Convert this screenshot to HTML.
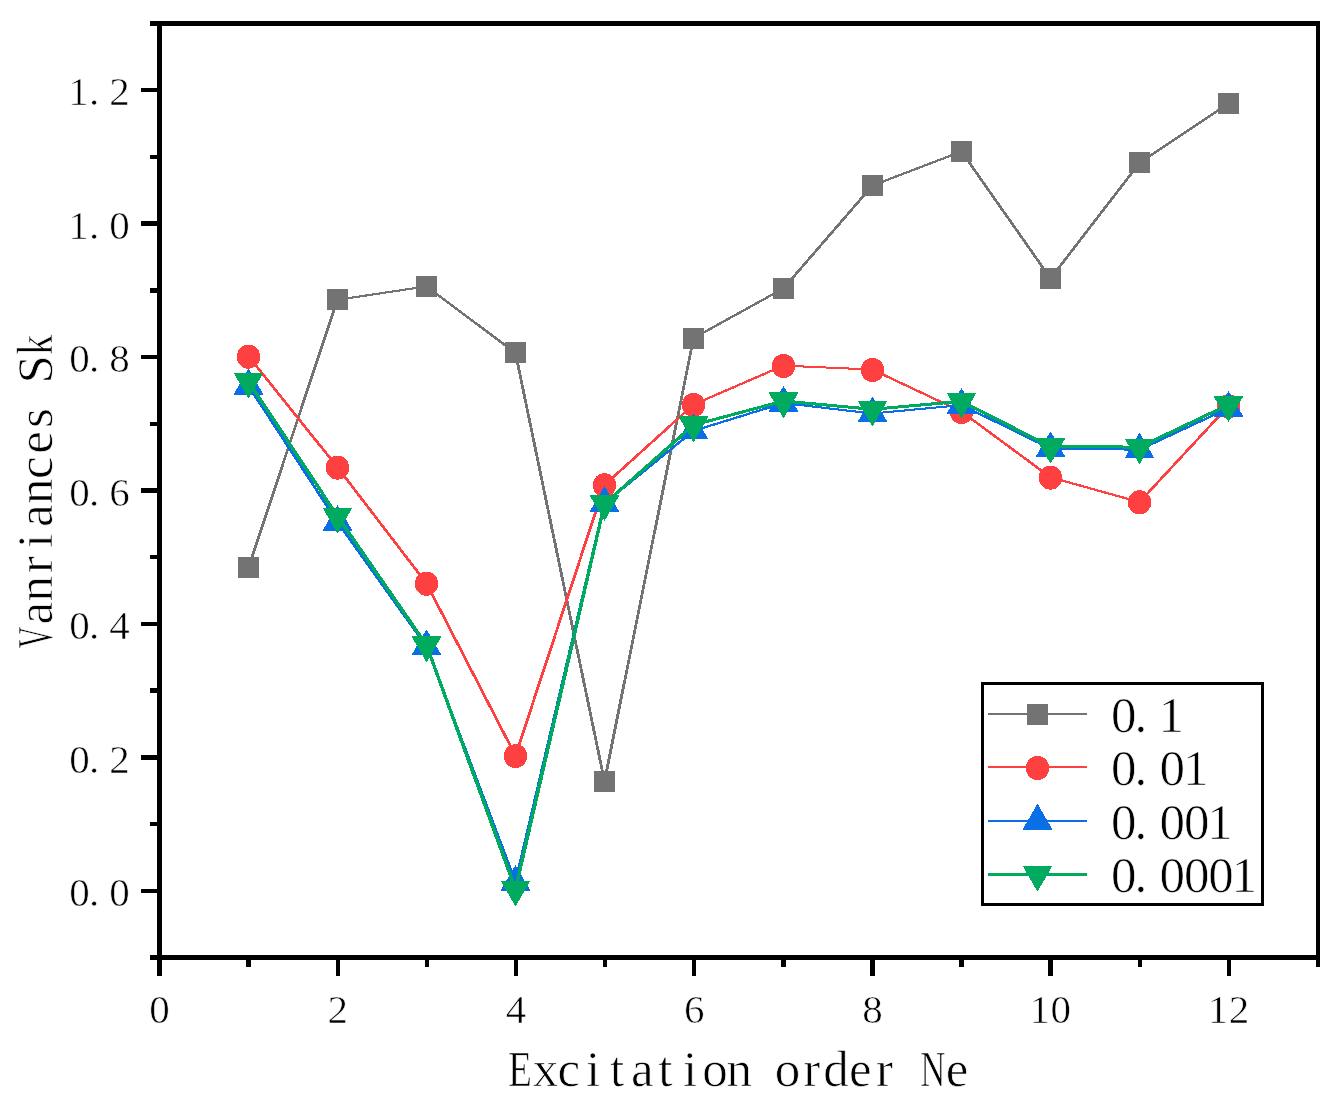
<!DOCTYPE html>
<html lang="en"><head><meta charset="utf-8"><title>Vanriances Sk vs Excitation order Ne</title>
<style>html,body{margin:0;padding:0;background:#fff}svg{display:block}text{font-family:"Liberation Serif",serif;fill:#000}.t40{font-size:41px;stroke:#fff;stroke-width:.6px}.t48{font-size:51px;stroke:#fff;stroke-width:.7px}.t50{font-size:51px;stroke:#fff;stroke-width:.7px}</style></head><body>
<svg width="1340" height="1113" viewBox="0 0 1340 1113">
<rect width="1340" height="1113" fill="#fff"/>
<g shape-rendering="crispEdges">
<g stroke="#737373" stroke-linecap="round" fill="none">
<line x1="248.5" y1="567.3" x2="337.5" y2="299.8" stroke-width="2.81"/>
<line x1="337.5" y1="299.8" x2="426.5" y2="286.4" stroke-width="2.13"/>
<line x1="426.5" y1="286.4" x2="515.5" y2="353.0" stroke-width="2.51"/>
<line x1="515.5" y1="353.0" x2="604.5" y2="781.4" stroke-width="2.83"/>
<line x1="604.5" y1="781.4" x2="693.5" y2="338.1" stroke-width="2.83"/>
<line x1="693.5" y1="338.1" x2="783.5" y2="288.4" stroke-width="2.41"/>
<line x1="783.5" y1="288.4" x2="872.5" y2="185.5" stroke-width="2.64"/>
<line x1="872.5" y1="185.5" x2="961.5" y2="151.5" stroke-width="2.30"/>
<line x1="961.5" y1="151.5" x2="1050.5" y2="278.5" stroke-width="2.70"/>
<line x1="1050.5" y1="278.5" x2="1139.5" y2="163.0" stroke-width="2.67"/>
<line x1="1139.5" y1="163.0" x2="1228.5" y2="103.4" stroke-width="2.47"/>
</g>
<rect x="238" y="557" width="21" height="21" fill="#737373"/>
<rect x="327" y="289" width="21" height="21" fill="#737373"/>
<rect x="416" y="276" width="21" height="21" fill="#737373"/>
<rect x="505" y="342" width="21" height="21" fill="#737373"/>
<rect x="594" y="771" width="21" height="21" fill="#737373"/>
<rect x="683" y="328" width="21" height="21" fill="#737373"/>
<rect x="773" y="278" width="21" height="21" fill="#737373"/>
<rect x="862" y="175" width="21" height="21" fill="#737373"/>
<rect x="951" y="141" width="21" height="21" fill="#737373"/>
<rect x="1040" y="268" width="21" height="21" fill="#737373"/>
<rect x="1129" y="152" width="21" height="21" fill="#737373"/>
<rect x="1218" y="93" width="21" height="21" fill="#737373"/>
<g stroke="#ff4040" stroke-linecap="round" fill="none">
<line x1="248.5" y1="356.4" x2="337.5" y2="467.3" stroke-width="2.66"/>
<line x1="337.5" y1="467.3" x2="426.5" y2="583.4" stroke-width="2.67"/>
<line x1="426.5" y1="583.4" x2="515.5" y2="755.8" stroke-width="2.76"/>
<line x1="515.5" y1="755.8" x2="604.5" y2="485.0" stroke-width="2.81"/>
<line x1="604.5" y1="485.0" x2="693.5" y2="404.6" stroke-width="2.57"/>
<line x1="693.5" y1="404.6" x2="783.5" y2="365.6" stroke-width="2.34"/>
<line x1="783.5" y1="365.6" x2="872.5" y2="369.6" stroke-width="2.04"/>
<line x1="872.5" y1="369.6" x2="961.5" y2="411.6" stroke-width="2.36"/>
<line x1="961.5" y1="411.6" x2="1050.5" y2="477.3" stroke-width="2.50"/>
<line x1="1050.5" y1="477.3" x2="1139.5" y2="502.1" stroke-width="2.23"/>
<line x1="1139.5" y1="502.1" x2="1228.5" y2="406.0" stroke-width="2.62"/>
</g>
<ellipse cx="248.5" cy="356.7" rx="11.7" ry="12.1" fill="#ff4040"/>
<ellipse cx="337.5" cy="467.6" rx="11.7" ry="12.1" fill="#ff4040"/>
<ellipse cx="426.5" cy="583.7" rx="11.7" ry="12.1" fill="#ff4040"/>
<ellipse cx="515.5" cy="756.1" rx="11.7" ry="12.1" fill="#ff4040"/>
<ellipse cx="604.5" cy="485.3" rx="11.7" ry="12.1" fill="#ff4040"/>
<ellipse cx="693.5" cy="404.9" rx="11.7" ry="12.1" fill="#ff4040"/>
<ellipse cx="783.5" cy="365.9" rx="11.7" ry="12.1" fill="#ff4040"/>
<ellipse cx="872.5" cy="369.9" rx="11.7" ry="12.1" fill="#ff4040"/>
<ellipse cx="961.5" cy="411.9" rx="11.7" ry="12.1" fill="#ff4040"/>
<ellipse cx="1050.5" cy="477.6" rx="11.7" ry="12.1" fill="#ff4040"/>
<ellipse cx="1139.5" cy="502.4" rx="11.7" ry="12.1" fill="#ff4040"/>
<ellipse cx="1228.5" cy="406.3" rx="11.7" ry="12.1" fill="#ff4040"/>
<g stroke="#0a6ee6" stroke-linecap="round" fill="none">
<line x1="248.5" y1="385.9" x2="337.5" y2="522.2" stroke-width="2.71"/>
<line x1="337.5" y1="522.2" x2="426.5" y2="646.5" stroke-width="2.69"/>
<line x1="426.5" y1="646.5" x2="515.5" y2="882.2" stroke-width="2.80"/>
<line x1="515.5" y1="882.2" x2="604.5" y2="503.3" stroke-width="2.83"/>
<line x1="604.5" y1="503.3" x2="693.5" y2="430.8" stroke-width="2.54"/>
<line x1="693.5" y1="430.8" x2="783.5" y2="403.1" stroke-width="2.25"/>
<line x1="783.5" y1="403.1" x2="872.5" y2="413.5" stroke-width="2.10"/>
<line x1="872.5" y1="413.5" x2="961.5" y2="405.1" stroke-width="2.08"/>
<line x1="961.5" y1="405.1" x2="1050.5" y2="448.5" stroke-width="2.37"/>
<line x1="1050.5" y1="448.5" x2="1139.5" y2="449.7" stroke-width="2.01"/>
<line x1="1139.5" y1="449.7" x2="1228.5" y2="408.2" stroke-width="2.36"/>
</g>
<polygon points="248.5,369.6 262.6,394.0 234.4,394.0" fill="#0a6ee6" stroke="#0a6ee6" stroke-width="1" stroke-linejoin="round"/>
<polygon points="337.5,505.9 351.6,530.3 323.4,530.3" fill="#0a6ee6" stroke="#0a6ee6" stroke-width="1" stroke-linejoin="round"/>
<polygon points="426.5,630.2 440.6,654.6 412.4,654.6" fill="#0a6ee6" stroke="#0a6ee6" stroke-width="1" stroke-linejoin="round"/>
<polygon points="515.5,865.9 529.6,890.3 501.4,890.3" fill="#0a6ee6" stroke="#0a6ee6" stroke-width="1" stroke-linejoin="round"/>
<polygon points="604.5,487.0 618.6,511.4 590.4,511.4" fill="#0a6ee6" stroke="#0a6ee6" stroke-width="1" stroke-linejoin="round"/>
<polygon points="693.5,414.5 707.6,438.9 679.4,438.9" fill="#0a6ee6" stroke="#0a6ee6" stroke-width="1" stroke-linejoin="round"/>
<polygon points="783.5,386.8 797.6,411.2 769.4,411.2" fill="#0a6ee6" stroke="#0a6ee6" stroke-width="1" stroke-linejoin="round"/>
<polygon points="872.5,397.2 886.6,421.6 858.4,421.6" fill="#0a6ee6" stroke="#0a6ee6" stroke-width="1" stroke-linejoin="round"/>
<polygon points="961.5,388.8 975.6,413.2 947.4,413.2" fill="#0a6ee6" stroke="#0a6ee6" stroke-width="1" stroke-linejoin="round"/>
<polygon points="1050.5,432.2 1064.6,456.6 1036.4,456.6" fill="#0a6ee6" stroke="#0a6ee6" stroke-width="1" stroke-linejoin="round"/>
<polygon points="1139.5,433.4 1153.6,457.8 1125.4,457.8" fill="#0a6ee6" stroke="#0a6ee6" stroke-width="1" stroke-linejoin="round"/>
<polygon points="1228.5,391.9 1242.6,416.3 1214.4,416.3" fill="#0a6ee6" stroke="#0a6ee6" stroke-width="1" stroke-linejoin="round"/>
<g stroke="#00aa5f" stroke-linecap="round" fill="none">
<line x1="248.5" y1="381.4" x2="337.5" y2="516.2" stroke-width="3.33"/>
<line x1="337.5" y1="516.2" x2="426.5" y2="645.0" stroke-width="3.33"/>
<line x1="426.5" y1="645.0" x2="515.5" y2="889.3" stroke-width="3.38"/>
<line x1="515.5" y1="889.3" x2="604.5" y2="503.8" stroke-width="3.39"/>
<line x1="604.5" y1="503.8" x2="693.5" y2="425.0" stroke-width="3.27"/>
<line x1="693.5" y1="425.0" x2="783.5" y2="401.0" stroke-width="3.10"/>
<line x1="783.5" y1="401.0" x2="872.5" y2="409.3" stroke-width="3.04"/>
<line x1="872.5" y1="409.3" x2="961.5" y2="401.3" stroke-width="3.04"/>
<line x1="961.5" y1="401.3" x2="1050.5" y2="446.6" stroke-width="3.18"/>
<line x1="1050.5" y1="446.6" x2="1139.5" y2="447.1" stroke-width="3.00"/>
<line x1="1139.5" y1="447.1" x2="1228.5" y2="404.7" stroke-width="3.17"/>
</g>
<polygon points="248.5,397.7 262.6,373.3 234.4,373.3" fill="#00aa5f" stroke="#00aa5f" stroke-width="1" stroke-linejoin="round"/>
<polygon points="337.5,532.5 351.6,508.1 323.4,508.1" fill="#00aa5f" stroke="#00aa5f" stroke-width="1" stroke-linejoin="round"/>
<polygon points="426.5,661.3 440.6,636.9 412.4,636.9" fill="#00aa5f" stroke="#00aa5f" stroke-width="1" stroke-linejoin="round"/>
<polygon points="515.5,905.6 529.6,881.2 501.4,881.2" fill="#00aa5f" stroke="#00aa5f" stroke-width="1" stroke-linejoin="round"/>
<polygon points="604.5,520.1 618.6,495.7 590.4,495.7" fill="#00aa5f" stroke="#00aa5f" stroke-width="1" stroke-linejoin="round"/>
<polygon points="693.5,441.3 707.6,416.9 679.4,416.9" fill="#00aa5f" stroke="#00aa5f" stroke-width="1" stroke-linejoin="round"/>
<polygon points="783.5,417.3 797.6,392.9 769.4,392.9" fill="#00aa5f" stroke="#00aa5f" stroke-width="1" stroke-linejoin="round"/>
<polygon points="872.5,425.6 886.6,401.2 858.4,401.2" fill="#00aa5f" stroke="#00aa5f" stroke-width="1" stroke-linejoin="round"/>
<polygon points="961.5,417.6 975.6,393.2 947.4,393.2" fill="#00aa5f" stroke="#00aa5f" stroke-width="1" stroke-linejoin="round"/>
<polygon points="1050.5,462.9 1064.6,438.5 1036.4,438.5" fill="#00aa5f" stroke="#00aa5f" stroke-width="1" stroke-linejoin="round"/>
<polygon points="1139.5,463.4 1153.6,439.0 1125.4,439.0" fill="#00aa5f" stroke="#00aa5f" stroke-width="1" stroke-linejoin="round"/>
<polygon points="1228.5,421.0 1242.6,396.6 1214.4,396.6" fill="#00aa5f" stroke="#00aa5f" stroke-width="1" stroke-linejoin="round"/>
</g>
<g fill="#000" shape-rendering="crispEdges">
<rect x="150" y="21" width="1170" height="5"/>
<rect x="150" y="955" width="1170" height="5"/>
<rect x="157" y="21" width="5" height="939"/>
<rect x="1316" y="21" width="4" height="939"/>
<rect x="157" y="960" width="5" height="16"/>
<rect x="246" y="960" width="5" height="7"/>
<rect x="336" y="960" width="4" height="16"/>
<rect x="425" y="960" width="4" height="7"/>
<rect x="514" y="960" width="4" height="16"/>
<rect x="603" y="960" width="4" height="7"/>
<rect x="692" y="960" width="4" height="16"/>
<rect x="781" y="960" width="5" height="7"/>
<rect x="870" y="960" width="5" height="16"/>
<rect x="959" y="960" width="5" height="7"/>
<rect x="1048" y="960" width="5" height="16"/>
<rect x="1138" y="960" width="4" height="7"/>
<rect x="1227" y="960" width="4" height="16"/>
<rect x="1316" y="960" width="4" height="7"/>
<rect x="141" y="889" width="16" height="4"/>
<rect x="150" y="822" width="7" height="4"/>
<rect x="141" y="755" width="16" height="5"/>
<rect x="150" y="688" width="7" height="5"/>
<rect x="141" y="622" width="16" height="4"/>
<rect x="150" y="555" width="7" height="4"/>
<rect x="141" y="488" width="16" height="5"/>
<rect x="150" y="422" width="7" height="4"/>
<rect x="141" y="355" width="16" height="4"/>
<rect x="150" y="288" width="7" height="5"/>
<rect x="141" y="221" width="16" height="5"/>
<rect x="150" y="155" width="7" height="4"/>
<rect x="141" y="88" width="16" height="4"/>
</g>
<g class="t40" text-anchor="middle">
<text x="159.5" y="1022.5">0</text>
<text x="337.7" y="1022.5">2</text>
<text x="516.0" y="1022.5">4</text>
<text x="694.2" y="1022.5">6</text>
<text x="872.4" y="1022.5">8</text>
<text x="1039.7 1060.7" y="1022.5">10</text>
<text x="1217.9 1238.9" y="1022.5">12</text>
<text x="79.5 94.0 119.5" y="906.0">0.0</text>
<text x="79.5 94.0 119.5" y="772.6">0.2</text>
<text x="79.5 94.0 119.5" y="639.1">0.4</text>
<text x="79.5 94.0 119.5" y="505.7">0.6</text>
<text x="79.5 94.0 119.5" y="372.3">0.8</text>
<text x="78.5 94.0 119.5" y="238.8">1.0</text>
<text x="78.5 94.0 119.5" y="105.4">1.2</text>
</g>
<g class="t48" text-anchor="middle">
<text x="519.9 545.6 568.8 593.2 617.0 642.4 665.4 690.0 715.0 739.2 763.4 787.6 811.8 836.0 860.2 884.4 908.6 932.8 957.0" y="1085.8"><tspan textLength="24.0" lengthAdjust="spacingAndGlyphs">E</tspan>xcitation order <tspan textLength="25.2" lengthAdjust="spacingAndGlyphs">N</tspan>e</text>
<text transform="rotate(-90)" x="-637.6 -613.2 -588.8 -564.4 -540.8 -515.6 -491.2 -467.8 -442.4 -418.0 -393.6 -369.2 -344.8" y="51.9"><tspan textLength="21.5" lengthAdjust="spacingAndGlyphs">V</tspan>anriances S<tspan textLength="20.0" lengthAdjust="spacingAndGlyphs">k</tspan></text>
</g>
<rect x="982.5" y="683.5" width="280" height="221" fill="#fff" stroke="#000" stroke-width="3" shape-rendering="crispEdges"/>
<g shape-rendering="crispEdges">
<line x1="988" y1="714.0" x2="1087" y2="714.0" stroke="#737373" stroke-width="2" shape-rendering="crispEdges"/>
<rect x="1027.0" y="704.0" width="21" height="21" fill="#737373"/>
<text class="t50" text-anchor="middle" x="1123.8 1140.8 1171.3" y="731.7">0.1</text>
<line x1="988" y1="767.3" x2="1087" y2="767.3" stroke="#ff4040" stroke-width="2" shape-rendering="crispEdges"/>
<ellipse cx="1037.5" cy="768.1" rx="11.7" ry="12.1" fill="#ff4040"/>
<text class="t50" text-anchor="middle" x="1123.8 1140.8 1172.3 1195.7" y="785.0">0.01</text>
<line x1="988" y1="821.0" x2="1087" y2="821.0" stroke="#0a6ee6" stroke-width="2" shape-rendering="crispEdges"/>
<polygon points="1037.5,804.7 1051.6,829.1 1023.4,829.1" fill="#0a6ee6" stroke="#0a6ee6" stroke-width="1" stroke-linejoin="round"/>
<text class="t50" text-anchor="middle" x="1123.8 1140.8 1172.3 1196.7 1220.0" y="838.7">0.001</text>
<line x1="988" y1="874.4" x2="1087" y2="874.4" stroke="#00aa5f" stroke-width="3" shape-rendering="crispEdges"/>
<polygon points="1037.5,890.7 1051.6,866.3 1023.4,866.3" fill="#00aa5f" stroke="#00aa5f" stroke-width="1" stroke-linejoin="round"/>
<text class="t50" text-anchor="middle" x="1123.8 1140.8 1172.3 1196.7 1221.0 1244.2" y="892.1">0.0001</text>
</g>
</svg></body></html>
